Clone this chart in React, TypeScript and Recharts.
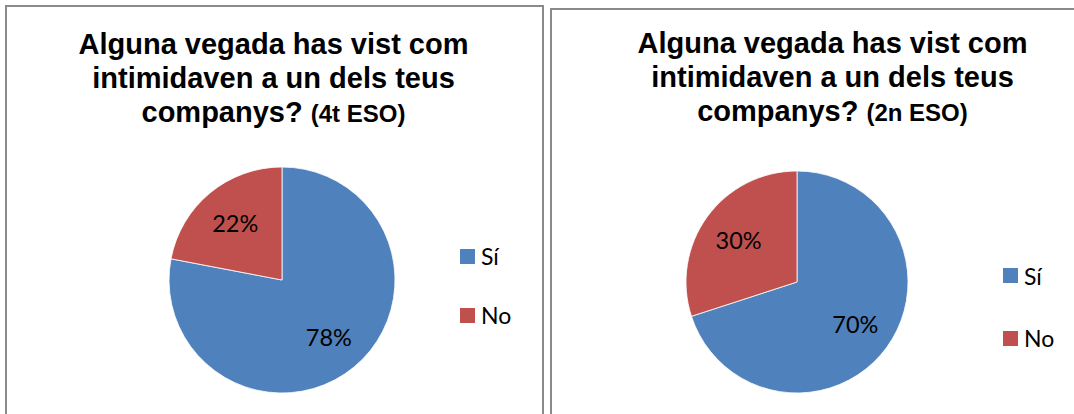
import React from 'react';
import { PieChart, Pie, Cell, Legend } from 'recharts';

const categories = ['Sí', 'No'];
const values4t = [78, 22];
const values2n = [70, 30];
const colors = ['#4F81BD', '#C0504D'];
const titleMain = ['Alguna vegada has vist com', 'intimidaven a un dels teus', 'companys?'];
const titleSuffix4t = '(4t ESO)';
const titleSuffix2n = '(2n ESO)';

const data4t = categories.map((name, i) => ({ name, value: values4t[i] }));
const data2n = categories.map((name, i) => ({ name, value: values2n[i] }));

const RAD = Math.PI / 180;

const renderLabel = (props: any) => {
  const { cx, cy, midAngle, outerRadius, value } = props;
  const r = outerRadius * 0.65;
  const x = cx + r * Math.cos(-midAngle * RAD);
  const y = cy + r * Math.sin(-midAngle * RAD);
  return (
    <text
      x={x}
      y={y}
      fill="#000"
      textAnchor="middle"
      dominantBaseline="central"
      style={{ fontFamily: 'Lato, "Open Sans", sans-serif', fontSize: 23.5 }}
    >
      {`${value}%`}
    </text>
  );
};

const makeLegend = (gap: number) => (props: any) => {
  const payload = [...(props.payload || [])].sort(
    (a: any, b: any) => categories.indexOf(a.value) - categories.indexOf(b.value)
  );
  return (
    <div style={{ fontFamily: 'Lato, "Open Sans", sans-serif', fontSize: 23, color: '#000' }}>
      {payload.map((entry: any, i: number) => (
        <div
          key={i}
          style={{
            display: 'flex',
            alignItems: 'center',
            height: 24,
            marginTop: i === 0 ? 0 : gap - 24,
          }}
        >
          <div style={{ width: 15, height: 15, background: entry.color, marginRight: 6 }} />
          <span style={{ lineHeight: '24px' }}>{entry.value}</span>
        </div>
      ))}
    </div>
  );
};

const Title = ({ center, top, suffix }: { center: number; top: number; suffix: string }) => (
  <div
    style={{
      position: 'absolute',
      left: center - 260,
      top,
      width: 520,
      textAlign: 'center',
      fontFamily: '"Liberation Sans", Arial, sans-serif',
      fontWeight: 'bold',
      fontSize: 29,
      lineHeight: '34px',
      color: '#000',
    }}
  >
    <div>{titleMain[0]}</div>
    <div>{titleMain[1]}</div>
    <div>
      {titleMain[2]} <span style={{ fontSize: 24 }}>{suffix}</span>
    </div>
  </div>
);

export default function App() {
  return (
    <div
      style={{
        position: 'absolute',
        left: 0,
        top: 0,
        width: 1074,
        height: 414,
        overflow: 'hidden',
        background: '#fff',
      }}
    >
      <div
        style={{
          position: 'absolute',
          left: 5,
          top: 5,
          width: 539,
          height: 500,
          border: '2px solid #8a8a8a',
          boxSizing: 'border-box',
        }}
      />
      <div
        style={{
          position: 'absolute',
          left: 550,
          top: 8,
          width: 600,
          height: 500,
          border: '2px solid #8a8a8a',
          boxSizing: 'border-box',
        }}
      />
      <Title center={273.5} top={27} suffix={titleSuffix4t} />
      <Title center={832.5} top={26} suffix={titleSuffix2n} />

      <div style={{ position: 'absolute', left: 0, top: 0 }}>
        <PieChart width={547} height={414} margin={{ top: 0, right: 0, bottom: 0, left: 0 }}>
          <Pie
            data={data4t}
            dataKey="value"
            nameKey="name"
            cx={282}
            cy={280}
            outerRadius={113}
            startAngle={90}
            endAngle={-270}
            stroke="#ffffff"
            strokeWidth={0.8}
            label={renderLabel}
            labelLine={false}
            isAnimationActive={false}
          >
            {data4t.map((d, i) => (
              <Cell key={d.name} fill={colors[i]} />
            ))}
          </Pie>
          <Legend
            content={makeLegend(59)}
            wrapperStyle={{ left: 460, top: 244, bottom: 'auto', width: 80 }}
          />
        </PieChart>
      </div>

      <div style={{ position: 'absolute', left: 547, top: 0 }}>
        <PieChart width={527} height={414} margin={{ top: 0, right: 0, bottom: 0, left: 0 }}>
          <Pie
            data={data2n}
            dataKey="value"
            nameKey="name"
            cx={250}
            cy={282}
            outerRadius={111}
            startAngle={90}
            endAngle={-270}
            stroke="#ffffff"
            strokeWidth={0.8}
            label={renderLabel}
            labelLine={false}
            isAnimationActive={false}
          >
            {data2n.map((d, i) => (
              <Cell key={d.name} fill={colors[i]} />
            ))}
          </Pie>
          <Legend
            content={makeLegend(62.5)}
            wrapperStyle={{ left: 456, top: 263.5, bottom: 'auto', width: 70 }}
          />
        </PieChart>
      </div>
    </div>
  );
}
